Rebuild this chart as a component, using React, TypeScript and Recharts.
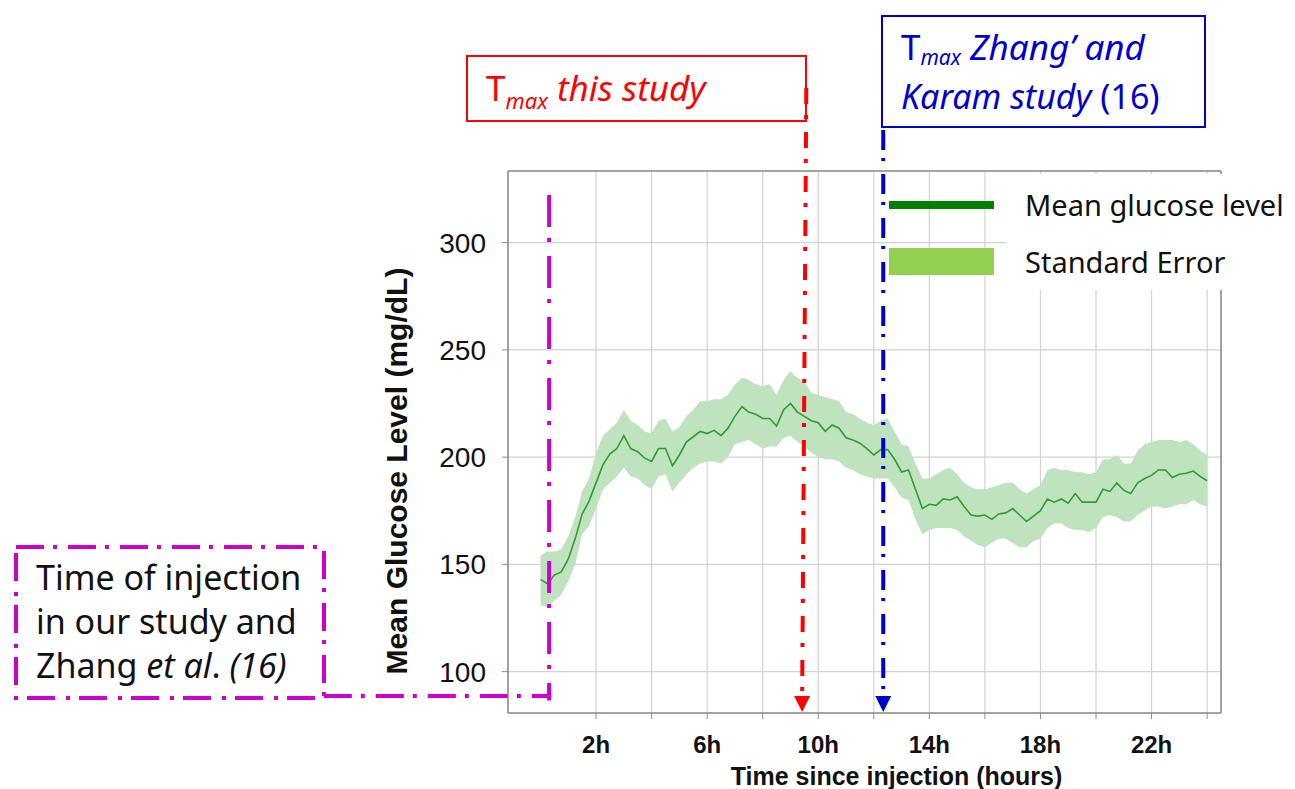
import {
  CartesianGrid,
  ComposedChart,
  Area,
  Label,
  Line,
  ReferenceDot,
  ReferenceLine,
  XAxis,
  YAxis,
} from "recharts";

// time since injection (hours), read every 15 min
const hours = [
  0, 0.25, 0.5, 0.75, 1, 1.25, 1.5, 1.75, 2, 2.25, 2.5, 2.75, 3, 3.25, 3.5, 3.75,
  4, 4.25, 4.5, 4.75, 5, 5.25, 5.5, 5.75, 6, 6.25, 6.5, 6.75, 7, 7.25, 7.5, 7.75,
  8, 8.25, 8.5, 8.75, 9, 9.25, 9.5, 9.75, 10, 10.25, 10.5, 10.75, 11, 11.25, 11.5, 11.75,
  12, 12.25, 12.5, 12.75, 13, 13.25, 13.5, 13.75, 14, 14.25, 14.5, 14.75, 15, 15.25, 15.5, 15.75,
  16, 16.25, 16.5, 16.75, 17, 17.25, 17.5, 17.75, 18, 18.25, 18.5, 18.75, 19, 19.25, 19.5, 19.75,
  20, 20.25, 20.5, 20.75, 21, 21.25, 21.5, 21.75, 22, 22.25, 22.5, 22.75, 23, 23.25, 23.5, 23.75,
  24,
];

const meanLevel = [
  143, 141, 145, 146.5, 152.5, 162, 173.5, 179.5, 188, 196.5, 201.5, 204, 210, 204, 202.5, 199.5,
  198, 204, 204, 196, 201, 207, 209.5, 212, 211, 212.5, 210, 213.5, 219, 223.5, 221, 220,
  218, 218, 214.5, 222, 225, 221, 219, 217, 216, 212, 215, 213.5, 209, 208, 206.5, 204,
  201, 203.5, 203.5, 199, 193, 194, 185, 176, 178, 177.5, 180.5, 180, 181.5, 177, 173, 172.5,
  173, 171, 173.5, 174, 176, 173, 170, 172.5, 175, 180.5, 179, 180.5, 178.5, 183, 179, 179,
  179, 185, 184, 188, 184.5, 183, 188, 190, 191.5, 194, 194, 190.5, 192, 192.5, 193.5, 191,
  189,
];

const seLow = [
  131, 130, 133, 136, 142, 150, 164, 168, 176, 185, 188, 191, 195, 191, 190, 187,
  185, 191, 192, 184, 188, 192, 195, 197, 198, 198, 197, 200, 206, 207, 208, 206,
  204, 205, 205, 209, 210, 207, 205, 202, 200, 199, 199, 198, 195, 194, 192, 191,
  190, 190, 190, 186, 181, 180, 171, 164, 166, 167, 167, 167, 166, 163, 161, 159,
  158, 160, 162, 162, 160, 158, 158, 161, 162, 167, 169, 169, 167, 166, 166, 165,
  167, 172, 173, 172, 170, 170, 173, 175, 177, 177, 176, 177, 178, 178, 180, 178,
  177,
];

const seHigh = [
  154, 156, 156, 157, 163, 172, 184, 190, 202, 210, 213, 216, 222, 217, 215, 212,
  211, 217, 218, 212, 214, 219, 222, 226, 226, 227, 227, 229, 234, 237, 236, 234,
  233, 234, 229, 236, 240, 237, 235, 230, 229, 228, 227, 226, 221, 220, 218, 216,
  215, 217, 218, 212, 206, 205, 197, 190, 190, 192, 194, 195, 192, 188, 186, 185,
  185, 186, 187, 188, 188, 185, 183, 185, 187, 194, 195, 194, 194, 193, 193, 192,
  193, 199, 199, 201, 197, 197, 203, 206, 207, 208, 208, 208, 207, 208, 206, 203,
  201,
];

const xTicks = [2, 4, 6, 8, 10, 12, 14, 16, 18, 20, 22, 24];
const labeledHours = [2, 6, 10, 14, 18, 22];
const yTicks = [100, 150, 200, 250, 300];

const injectionHour = 0.31;
const tmaxThisStudy = [9.57, 9.42];
const tmaxZhang = 12.34;

const data = hours.map((h, i) => ({
  h,
  mean: meanLevel[i],
  se: [seLow[i], seHigh[i]],
}));

const GREY = "#8c8c8c";
const RED = "#ff0000";
const BLUE = "#0000cc";
const MAGENTA = "#cc00cc";

const arrowHead = (color: string) => (props: any) => {
  const { cx, cy } = props;
  return (
    <polygon
      points={`${cx - 8},${cy - 16} ${cx + 8},${cy - 16} ${cx},${cy}`}
      fill={color}
    />
  );
};

const boxFont = "'Noto Sans', 'Open Sans', sans-serif";

export default function App() {
  return (
    <div style={{ position: "absolute", left: 0, top: 0, width: 1295, height: 789, background: "#fff" }}>
      <ComposedChart
        width={1295}
        height={789}
        data={data}
        margin={{ top: 171, right: 74, bottom: 46, left: 408 }}
        style={{ fontFamily: "'Liberation Sans', Arial, sans-serif" }}
      >
        <CartesianGrid stroke="#d2d2d2" strokeWidth={1.2} />
        <XAxis
          dataKey="h"
          type="number"
          domain={[-1.17, 24.5]}
          allowDataOverflow
          ticks={xTicks}
          tickFormatter={(v: number) => (labeledHours.includes(v) ? `${v}h` : "")}
          tick={{ fontSize: 24, fontWeight: 700, fill: "#111" }}
          tickSize={6}
          tickMargin={17}
          axisLine={{ stroke: GREY, strokeWidth: 1.5 }}
          tickLine={{ stroke: GREY }}
          height={30}
        >
          <Label
            content={(p: any) => {
              const vb = p.viewBox;
              return (
                <text
                  x={vb.x + vb.width / 2 + 32}
                  y={785}
                  textAnchor="middle"
                  fontSize={25}
                  fontWeight={700}
                  fill="#111"
                >
                  Time since injection (hours)
                </text>
              );
            }}
          />
        </XAxis>
        <YAxis
          type="number"
          domain={[80.7, 333.4]}
          allowDataOverflow
          ticks={yTicks}
          width={100}
          tick={{ fontSize: 28, fill: "#111" }}
          tickSize={6}
          tickMargin={16}
          axisLine={{ stroke: GREY, strokeWidth: 1.5 }}
          tickLine={{ stroke: GREY }}
        >
          <Label
            content={() => (
              <text
                x={396}
                y={471}
                transform="rotate(-90 396 471)"
                textAnchor="middle"
                dominantBaseline="central"
                fontSize={30}
                fontWeight={700}
                fill="#111"
              >
                Mean Glucose Level (mg/dL)
              </text>
            )}
          />
        </YAxis>
        <ReferenceLine y={333.4} stroke={GREY} strokeWidth={1.5} />
        <ReferenceLine x={24.5} stroke={GREY} strokeWidth={1.5} />
        <Area
          dataKey="se"
          type="linear"
          fill="#bfe2bf"
          fillOpacity={1}
          stroke="none"
          isAnimationActive={false}
        />
        <Line
          dataKey="mean"
          type="linear"
          stroke="#2e9e2e"
          strokeWidth={1.6}
          dot={false}
          isAnimationActive={false}
        />
        {/* injection time */}
        <ReferenceLine
          ifOverflow="visible"
          segment={[
            { x: injectionHour, y: 322.2 },
            { x: injectionHour, y: 86.5 },
          ]}
          stroke={MAGENTA}
          strokeWidth={4}
          strokeDasharray="32 11 4 14"
        />
        <ReferenceLine
          ifOverflow="visible"
          segment={[
            { x: -7.8, y: 88.6 },
            { x: injectionHour + 0.08, y: 88.6 },
          ]}
          stroke={MAGENTA}
          strokeWidth={4}
          strokeDasharray="28 9 4 11"
        />
        {/* Tmax this study */}
        <ReferenceLine
          ifOverflow="visible"
          segment={[
            { x: tmaxThisStudy[0], y: 372.1 },
            { x: tmaxThisStudy[1], y: 88.2 },
          ]}
          stroke={RED}
          strokeWidth={4}
          strokeDasharray="16 11 4 13"
        />
        <ReferenceDot
          x={tmaxThisStudy[1]}
          y={81.2}
          ifOverflow="visible"
          shape={arrowHead(RED)}
        />
        {/* Tmax Zhang and Karam */}
        <ReferenceLine
          ifOverflow="visible"
          segment={[
            { x: tmaxZhang, y: 352.5 },
            { x: tmaxZhang, y: 88.2 },
          ]}
          stroke={BLUE}
          strokeWidth={4}
          strokeDasharray="20 8 3 13"
        />
        <ReferenceDot
          x={tmaxZhang}
          y={81.2}
          ifOverflow="visible"
          shape={arrowHead(BLUE)}
        />
      </ComposedChart>

      {/* annotation boxes */}
      <svg
        width={1295}
        height={789}
        style={{ position: "absolute", left: 0, top: 0, pointerEvents: "none" }}
        fontFamily={boxFont}
      >
        <rect x={467} y={56} width={339} height={65} fill="none" stroke={RED} strokeWidth={2} />
        <text x={486} y={101} fill={RED} fontSize={35}>
          T
          <tspan fontSize={22} fontStyle="italic" dy={8}>max</tspan>
          <tspan fontStyle="italic" dy={-8}> this study</tspan>
        </text>

        <rect x={882} y={16} width={323} height={111} fill="none" stroke={BLUE} strokeWidth={2} />
        <text x={901} y={60} fill={BLUE} fontSize={35}>
          T
          <tspan fontSize={21} fontStyle="italic" dy={5}>max</tspan>
          <tspan fontStyle="italic" dy={-5}> Zhang’ and</tspan>
        </text>
        <text x={901} y={109} fill={BLUE} fontSize={34}>
          <tspan fontStyle="italic">Karam study</tspan> (16)
        </text>

        <rect
          x={16}
          y={547}
          width={308}
          height={151}
          fill="none"
          stroke={MAGENTA}
          strokeWidth={4}
          strokeDasharray="28 9 4 11"
        />
        <text x={36} y={590} fill="#111" fontSize={34}>Time of injection</text>
        <text x={36} y={634} fill="#111" fontSize={34}>in our study and</text>
        <text x={36} y={678} fill="#111" fontSize={34}>
          Zhang <tspan fontStyle="italic">et al</tspan>. <tspan fontStyle="italic">(16)</tspan>
        </text>
      </svg>

      {/* legend */}
      <div style={{ position: "absolute", left: 1006, top: 174, width: 289, height: 116, background: "#fff" }} />
      <div style={{ position: "absolute", left: 889, top: 201, width: 105, height: 8, background: "#008000" }} />
      <div style={{ position: "absolute", left: 889, top: 248, width: 105, height: 27, background: "#92d050" }} />
      <div
        style={{
          position: "absolute",
          left: 1025,
          top: 185,
          fontFamily: boxFont,
          fontSize: 29,
          lineHeight: "40px",
          color: "#111",
          whiteSpace: "nowrap",
        }}
      >
        Mean glucose level
      </div>
      <div
        style={{
          position: "absolute",
          left: 1025,
          top: 242,
          fontFamily: boxFont,
          fontSize: 29,
          lineHeight: "40px",
          color: "#111",
          whiteSpace: "nowrap",
        }}
      >
        Standard Error
      </div>
    </div>
  );
}
